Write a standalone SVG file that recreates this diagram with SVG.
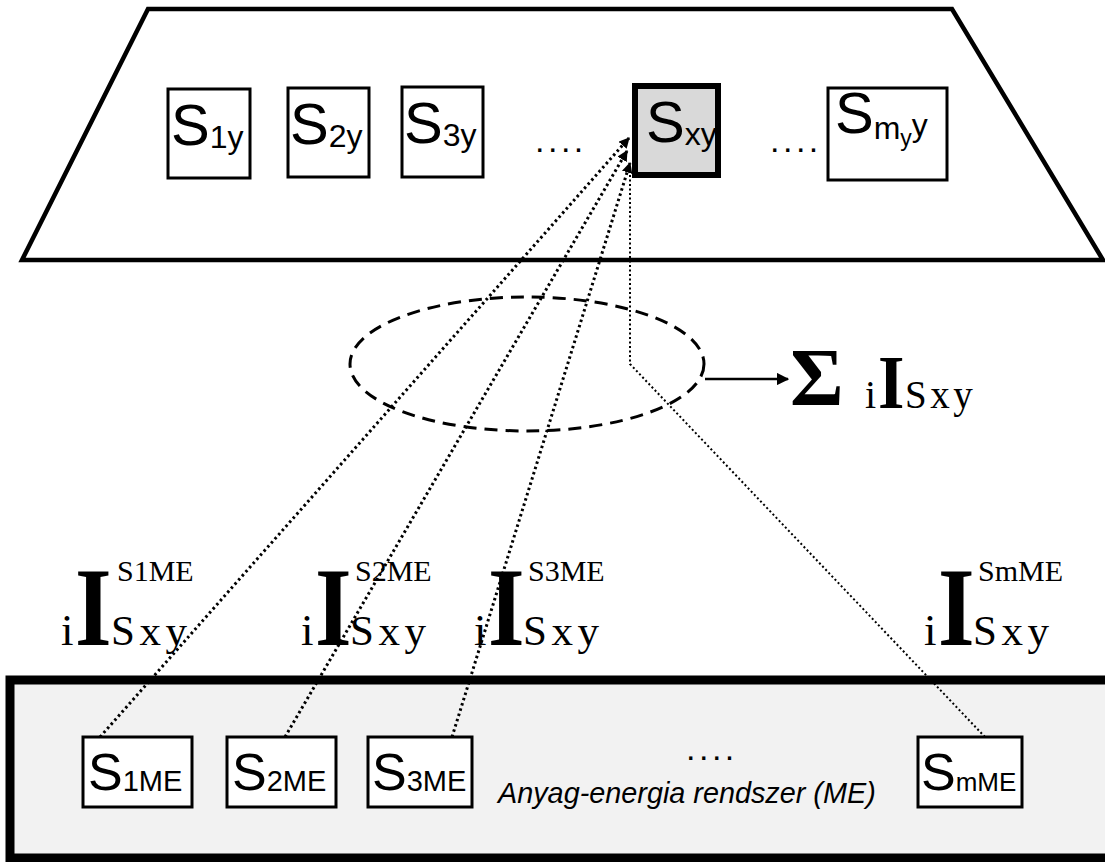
<svg xmlns="http://www.w3.org/2000/svg" width="1105" height="862" viewBox="0 0 1105 862">
  <style>
    .sans { font-family: "Liberation Sans", Arial, sans-serif; fill: #000; }
    .serif { font-family: "Liberation Serif", "Times New Roman", serif; fill: #000; }
    .box { fill: #fff; stroke: #000; stroke-width: 3; }
    .dots { font-family: "Liberation Sans", Arial, sans-serif; font-size: 34px; letter-spacing: 3.5px; }
    .big-i { font-family: "Liberation Serif", "Times New Roman", serif; font-weight: bold; }
    .sub { font-family: "Liberation Serif", "Times New Roman", serif; font-size: 43px; letter-spacing: 4.5px; }
    .sup { font-family: "Liberation Serif", "Times New Roman", serif; font-size: 30px; }
    .link { fill: none; stroke: #000; stroke-width: 3; stroke-dasharray: 2.5 3; }
    .link-thin { fill: none; stroke: #000; stroke-width: 2; stroke-dasharray: 2 2.5; }
  </style>
  <defs>
    <marker id="tip" viewBox="0 0 10 10" refX="9" refY="5" markerWidth="3.6" markerHeight="3.6" orient="auto" markerUnits="strokeWidth">
      <path d="M0,0 L10,5 L0,10 z" fill="#000"/>
    </marker>
    <marker id="tip2" viewBox="0 0 10 10" refX="9" refY="5" markerWidth="5" markerHeight="5" orient="auto" markerUnits="strokeWidth">
      <path d="M0,0 L10,5 L0,10 z" fill="#000"/>
    </marker>
  </defs>

  <!-- upper level: trapezoid -->
  <g id="upper-level">
    <polygon points="148,9 952,9 1103,260 22,260" fill="#fff" stroke="#000" stroke-width="4.5" stroke-linejoin="miter"/>
  </g>

  <!-- lower level: material-energy system -->
  <g id="me-system">
    <rect x="10" y="680" width="1110" height="178" fill="#f2f2f2" stroke="#000" stroke-width="9"/>
    <text class="dots" x="686" y="760">....</text>
    <text class="sans" x="498" y="803" font-size="28.8" font-style="italic">Anyag-energia rendszer (ME)</text>
  </g>

  <!-- upper-level nodes -->
  <g id="s1y">
    <rect class="box" x="168" y="89" width="82" height="89"/>
    <text class="sans" x="171" y="145" font-size="58">S<tspan font-size="32" dy="3">1y</tspan></text>
  </g>
  <g id="s2y">
    <rect class="box" x="288" y="88" width="81" height="89"/>
    <text class="sans" x="290" y="144" font-size="58">S<tspan font-size="32" dy="3">2y</tspan></text>
  </g>
  <g id="s3y">
    <rect class="box" x="402" y="87" width="81" height="90"/>
    <text class="sans" x="404" y="143" font-size="58">S<tspan font-size="32" dy="3">3y</tspan></text>
  </g>
  <text class="dots" x="535" y="152">....</text>
  <g id="sxy">
    <rect x="635" y="86" width="83" height="89" fill="#d9d9d9" stroke="#000" stroke-width="6"/>
    <text class="sans" x="646" y="142" font-size="58">S<tspan font-size="32" dy="3">xy</tspan></text>
  </g>
  <text class="dots" x="770" y="152">....</text>
  <g id="smyy">
    <rect class="box" x="828" y="88" width="119" height="92"/>
    <text class="sans" x="835" y="133" font-size="58">S<tspan font-size="32" dy="6">m</tspan><tspan font-size="23" dy="7">y</tspan><tspan font-size="32" dy="-10">y</tspan></text>
  </g>

  <!-- lower-level nodes -->
  <g id="s1me">
    <rect class="box" x="83" y="737" width="109" height="70"/>
    <text class="sans" x="88" y="790" font-size="52">S<tspan font-size="29" dy="1">1ME</tspan></text>
  </g>
  <g id="s2me">
    <rect class="box" x="227" y="737" width="109" height="70"/>
    <text class="sans" x="232" y="790" font-size="52">S<tspan font-size="29" dy="1">2ME</tspan></text>
  </g>
  <g id="s3me">
    <rect class="box" x="368" y="737" width="104" height="70"/>
    <text class="sans" x="372" y="790" font-size="52">S<tspan font-size="29" dy="1">3ME</tspan></text>
  </g>
  <g id="smme">
    <rect class="box" x="918" y="737" width="104" height="70"/>
    <text class="sans" x="921" y="790" font-size="52">S<tspan font-size="26" dy="1">mME</tspan></text>
  </g>

  <!-- influence labels -->
  <g id="label-1">
    <text class="serif" x="61" y="645" font-size="45">i</text>
    <text class="big-i" transform="translate(75,645) scale(1,1.2)" font-size="94">I</text>
    <text class="sup" x="117" y="581">S1ME</text>
    <text class="sub" x="111" y="645">Sxy</text>
  </g>
  <g id="label-2">
    <text class="serif" x="301" y="645" font-size="45">i</text>
    <text class="big-i" transform="translate(315,645) scale(1,1.2)" font-size="94">I</text>
    <text class="sup" x="355" y="581">S2ME</text>
    <text class="sub" x="350" y="645">Sxy</text>
  </g>
  <g id="label-3">
    <text class="serif" x="474" y="645" font-size="45">i</text>
    <text class="big-i" transform="translate(488,645) scale(1,1.2)" font-size="94">I</text>
    <text class="sup" x="528" y="581">S3ME</text>
    <text class="sub" x="523" y="645">Sxy</text>
  </g>
  <g id="label-m">
    <text class="serif" x="924" y="645" font-size="45">i</text>
    <text class="big-i" transform="translate(938,645) scale(1,1.2)" font-size="94">I</text>
    <text class="sup" x="978" y="581">SmME</text>
    <text class="sub" x="973" y="645">Sxy</text>
  </g>

  <!-- aggregate -->
  <g id="sum">
    <text class="serif" x="790" y="405" font-size="82" font-weight="bold">Σ</text>
    <text class="serif" x="865" y="408" font-size="40">i</text>
    <text class="big-i" transform="translate(878,408) scale(1,1.12)" font-size="68">I</text>
    <text class="serif" x="905" y="408" font-size="39" letter-spacing="3.5">Sxy</text>
  </g>

  <!-- connectors -->
  <g id="connectors">
    <ellipse cx="527" cy="364" rx="177" ry="67" fill="none" stroke="#000" stroke-width="3" stroke-dasharray="13 8"/>
    <line x1="705" y1="379" x2="788" y2="379" stroke="#000" stroke-width="2.5" marker-end="url(#tip2)"/>
    <line class="link" x1="100" y1="737" x2="629" y2="138" marker-end="url(#tip)"/>
    <line class="link" x1="285" y1="737" x2="627" y2="151" marker-end="url(#tip)"/>
    <line class="link" x1="452" y1="737" x2="630" y2="163" marker-end="url(#tip)"/>
    <polyline class="link-thin" points="985,737 630,364 630,168"/>
  </g>
</svg>
